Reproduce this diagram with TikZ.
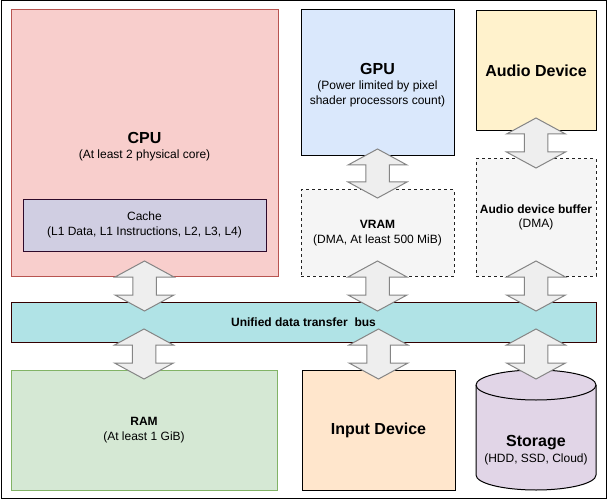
\documentclass[tikz,border=0pt]{standalone}
\usepackage{fontspec}
\setmainfont{Liberation Sans}
\usetikzlibrary{calc}
\definecolor{cpuF}{HTML}{F8CECC}\definecolor{cpuD}{HTML}{B85450}
\definecolor{cacheF}{HTML}{D0CEE2}\definecolor{cacheD}{HTML}{2E0A2A}
\definecolor{gpuF}{HTML}{DAE8FC}
\definecolor{audF}{HTML}{FFF2CC}
\definecolor{dashF}{HTML}{F5F5F5}\definecolor{dashD}{HTML}{222222}
\definecolor{busF}{HTML}{B0E3E6}\definecolor{busD}{HTML}{330000}
\definecolor{ramF}{HTML}{D5E8D4}\definecolor{ramD}{HTML}{82B366}
\definecolor{inpF}{HTML}{FFE6CC}
\definecolor{storF}{HTML}{E1D5E7}
\definecolor{arrF}{HTML}{EEEEEE}\definecolor{arrD}{HTML}{858585}
\newcommand{\biarrow}[4]{%
  \path[flexarr] let \p1=#1, \p2=#2 in
   (\x1, \y1+#3) -- (\x1+29.5pt, \y1+#3-16pt) -- (\x1+11.75pt, \y1+#3-16pt)
   -- (\x1+11.75pt, \y2-#4+16pt) -- (\x1+29.5pt, \y2-#4+16pt) -- (\x1, \y2-#4)
   -- (\x1-29.5pt, \y2-#4+16pt) -- (\x1-11.75pt, \y2-#4+16pt)
   -- (\x1-11.75pt, \y1+#3-16pt) -- (\x1-29.5pt, \y1+#3-16pt) -- cycle;}
\newcommand{\bigt}[1]{{\fontsize{16}{19}\selectfont\bfseries #1}}
\tikzset{
  box/.style={draw=black, line width=1pt, anchor=north west, inner sep=0pt,
    outer sep=0pt, align=center, font=\fontsize{12}{14.4}\selectfont},
  dashbox/.style={box, draw=dashD, fill=dashF, dash pattern=on 3pt off 3pt},
  flexarr/.style={draw=arrD, fill=arrF, line width=1pt, line join=miter},
  lbl/.style={inner sep=0pt, align=center, font=\fontsize{12}{14.4}\selectfont},
}
\begin{document}
\begin{tikzpicture}[x=1pt,y=-1pt]
\useasboundingbox (0,0) rectangle (608,500);
\node[draw=black, line width=1pt, anchor=north west, inner sep=0pt, outer sep=0pt,
  minimum width=605pt, minimum height=497pt] (frame) at (1,1) {};
% top row
\node[box, fill=cpuF, draw=cpuD, minimum width=267pt, minimum height=266pt] (cpu) at (11,10) {};
\node[lbl] (cpulbl) at ($(cpu.center)+(0,3.5)$) {\bigt{CPU}\\[1pt](At least 2 physical core)};
\node[box, fill=cacheF, draw=cacheD, minimum width=243pt, minimum height=52pt] (cache) at (23,199)
  {Cache\\(L1 Data, L1 Instructions, L2, L3, L4)};
\node[box, fill=gpuF, minimum width=153pt, minimum height=146pt] (gpu) at (301,10) {};
\node[lbl] (gpulbl) at ($(gpu.center)+(0,2)$)
  {\bigt{GPU}\\[1pt](Power limited by pixel\\shader processors count)};
\node[box, fill=audF, minimum width=120pt, minimum height=120pt] (aud) at (476,11)
  {\bigt{Audio Device}};
\node[dashbox, minimum width=153pt, minimum height=86pt] (vram) at (301,190)
  {\textbf{VRAM}\\(DMA, At least 500 MiB)};
\node[dashbox, minimum width=120pt, minimum height=117pt] (buf) at (476,159)
  {\textbf{Audio device buffer}\\(DMA)};
% bus
\node[box, fill=busF, draw=busD, minimum width=585pt, minimum height=40pt] (bus) at (11,302)
  {\textbf{Unified data transfer\ \ bus}};
% bottom row
\node[box, fill=ramF, draw=ramD, minimum width=266pt, minimum height=120pt] (ram) at (11,370)
  {\textbf{RAM}\\(At least 1 GiB)};
\node[box, fill=inpF, minimum width=153pt, minimum height=120pt] (inp) at (302,370)
  {\bigt{Input Device}};
\node[anchor=north west, inner sep=0pt, outer sep=0pt, minimum width=120pt,
  minimum height=120pt] (stor) at (476,370) {};
\draw[fill=storF, line width=1pt]
  (476,385) -- (476,475) arc[start angle=180, end angle=360, x radius=60pt, y radius=15pt]
  -- (596,385) arc[start angle=0, end angle=180, x radius=60pt, y radius=15pt] -- cycle;
\draw[line width=1pt] (476,385) arc[start angle=180, end angle=360, x radius=60pt, y radius=15pt];
\node[lbl] (storlbl) at ($(stor.center)+(0,20)$) {\bigt{Storage}\\[1pt](HDD, SSD, Cloud)};
% arrows
\biarrow{(gpu.south)}{(vram.north)}{7pt}{8pt}
\biarrow{(aud.south)}{(buf.north)}{13pt}{9pt}
\biarrow{(cpu.south)}{(cpu.south |- bus.north)}{15pt}{9pt}
\biarrow{(vram.south)}{(vram.south |- bus.north)}{15pt}{9pt}
\biarrow{(buf.south)}{(buf.south |- bus.north)}{15pt}{9pt}
\biarrow{(ram.north |- bus.south)}{(ram.north)}{13pt}{9pt}
\biarrow{(inp.north |- bus.south)}{(inp.north)}{13pt}{9pt}
\biarrow{(stor.north |- bus.south)}{(stor.north)}{13pt}{9pt}
\end{tikzpicture}
\end{document}
